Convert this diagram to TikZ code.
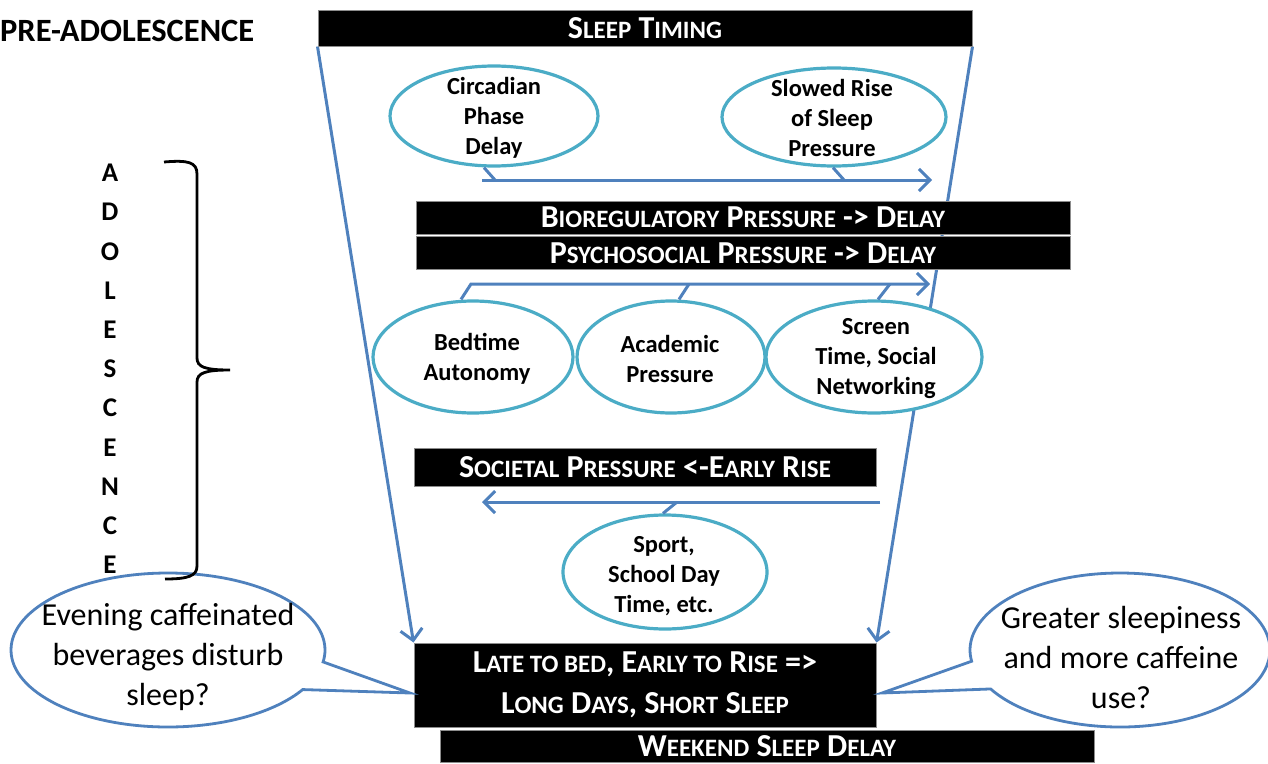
\documentclass[tikz,border=0pt]{standalone}
\usepackage{fontspec}
\setmainfont{Carlito}
\usetikzlibrary{arrows.meta,shapes.geometric,shapes.callouts}
\definecolor{flowblue}{HTML}{4F81BD}
\definecolor{ringteal}{HTML}{4BACC6}
\pgfdeclarelayer{back}
\pgfsetlayers{back,main}
\newcommand\sml[1]{{\fontsize{25}{25}\selectfont #1}}
\begin{document}
\begin{tikzpicture}[x=1pt,y=-1pt,
  bar/.style={fill=black, draw=black!45, line width=1pt, text=white, font=\fontsize{32}{32}\selectfont\bfseries, inner sep=0pt},
  ring/.style={ellipse, draw=ringteal, line width=3.2pt, fill=white, inner sep=0pt},
  ringtext/.style={align=center, inner sep=0pt, font=\fontsize{24.5}{30}\selectfont\bfseries},
  flow/.style={draw=flowblue, line width=3pt},
  flowarr/.style={flow, -{Straight Barb[length=11pt,width=22pt]}},
  bubble/.style={ellipse callout, draw=flowblue, line width=2.8pt, fill=white, inner sep=0pt, callout pointer arc=22},
  bubtext/.style={align=center, inner sep=0pt, font=\fontsize{32}{40}\selectfont},
  letter/.style={font=\fontsize{27}{27}\selectfont\bfseries, inner sep=0pt}
]
\useasboundingbox (0,0) rectangle (1268,763);

\node[anchor=west, font=\fontsize{32.5}{32.5}\selectfont\bfseries, inner sep=0pt] (pre) at (0,31) {PRE-ADOLESCENCE};

% bars
\node[bar, minimum width=654pt, minimum height=36pt] (timing) at (645,28) {S\sml{LEEP} T\sml{IMING}};
\node[bar, minimum width=654pt, minimum height=33pt] (bio) at (743,217.5) {B\sml{IOREGULATORY} P\sml{RESSURE} -> D\sml{ELAY}};
\node[bar, minimum width=654pt, minimum height=33pt] (psy) at (743,253) {P\sml{SYCHOSOCIAL} P\sml{RESSURE} -> D\sml{ELAY}};
\node[bar, minimum width=462pt, minimum height=38pt] (soc) at (645,467) {S\sml{OCIETAL} P\sml{RESSURE} <-E\sml{ARLY} R\sml{ISE}};
\node[bar, minimum width=462pt, minimum height=84pt, align=center, font=\fontsize{32}{41}\selectfont\bfseries] (late) at (645,685) {L\sml{ATE TO BED}, E\sml{ARLY TO} R\sml{ISE} =>\\L\sml{ONG} D\sml{AYS}, S\sml{HORT} S\sml{LEEP}};
\node[bar, minimum width=654pt, minimum height=32pt] (wknd) at (767,746.5) {W\sml{EEKEND} S\sml{LEEP} D\sml{ELAY}};

% ellipses
\node[ring, minimum width=208pt, minimum height=100pt] (circ) at (494,116) {};
\node[ringtext] (circT) at (494,118) {Circadian\\Phase\\Delay};
\node[ring, minimum width=224pt, minimum height=98pt] (slow) at (834,117) {};
\node[ringtext] (slowT) at (832,118) {Slowed Rise\\of Sleep\\Pressure};
\node[ring, minimum width=200pt, minimum height=112pt] (bed) at (473,357) {};
\node[ringtext] (bedT) at (477,359) {Bedtime\\Autonomy};
\node[ring, minimum width=188pt, minimum height=112pt] (acad) at (671,357) {};
\node[ringtext] (acadT) at (670,359) {Academic\\Pressure};
\node[ring, minimum width=216pt, minimum height=112pt] (scr) at (874,357) {};
\node[ringtext] (scrT) at (876,359) {Screen\\Time, Social\\Networking};
\node[ring, minimum width=204pt, minimum height=114pt] (sport) at (665,572) {};
\node[ringtext] (sportT) at (664,576) {Sport,\\School Day\\Time, etc.};

% arrows
\coordinate (a1s) at (482,180);
\coordinate (a1e) at (932,180);
\draw[flowarr] (a1s) -- (a1e);
\draw[flow] ([xshift=-10pt]circ.south) -- ([xshift=1pt]circ.south |- a1s);
\draw[flow] ([xshift=-1pt]slow.south) -- ([xshift=10pt]slow.south |- a1s);

\coordinate (a2e) at (930,284);
\draw[flowarr] ([xshift=-12pt]bed.north) -- ([xshift=-2pt]bed.north |- a2e) -- (a2e);
\draw[flow] ([xshift=8pt]acad.north) -- ([xshift=18pt]acad.north |- a2e);
\draw[flow] ([xshift=4pt]scr.north) -- ([xshift=16pt]scr.north |- a2e);

\coordinate (a3s) at (880,502);
\coordinate (a3e) at (482,502);
\draw[flowarr] (a3s) -- (a3e);
\draw[flow] ([xshift=-2pt]sport.north) -- ([xshift=12pt]sport.north |- a3s);

\begin{pgfonlayer}{back}
\draw[flowarr] (timing.south west) -- (late.north west);
\draw[flowarr] (timing.south east) -- (late.north east);
\end{pgfonlayer}

% callouts
\coordinate (ltip) at (410,693);
\coordinate (rtip) at (882,693);
\node[bubble, minimum width=314pt, minimum height=154pt, callout absolute pointer={(ltip)}] (lcall) at (168,650) {};
\node[bubtext] (lcallT) at (168,657) {Evening caffeinated\\beverages disturb\\sleep?};
\node[bubble, minimum width=300pt, minimum height=154pt, callout absolute pointer={(rtip)}] (rcall) at (1120,650) {};
\node[bubtext] (rcallT) at (1121,657) {Greater sleepiness\\and more caffeine\\use?};

% brace
\draw[line width=2.8pt] (164,162) .. controls (188,160) and (197,162) .. (197,174) -- (197,358)
  .. controls (197,367) and (205,370) .. (230,370)
  .. controls (205,370) and (197,373) .. (197,382) -- (197,566)
  .. controls (197,576) and (188,579) .. (165,579);

% vertical word
\foreach \c [count=\i from 0] in {A,D,O,L,E,S,C,E,N,C,E} {
  \node[letter] (L\i) at (110,173+39.2*\i) {\c};
}
\end{tikzpicture}
\end{document}
